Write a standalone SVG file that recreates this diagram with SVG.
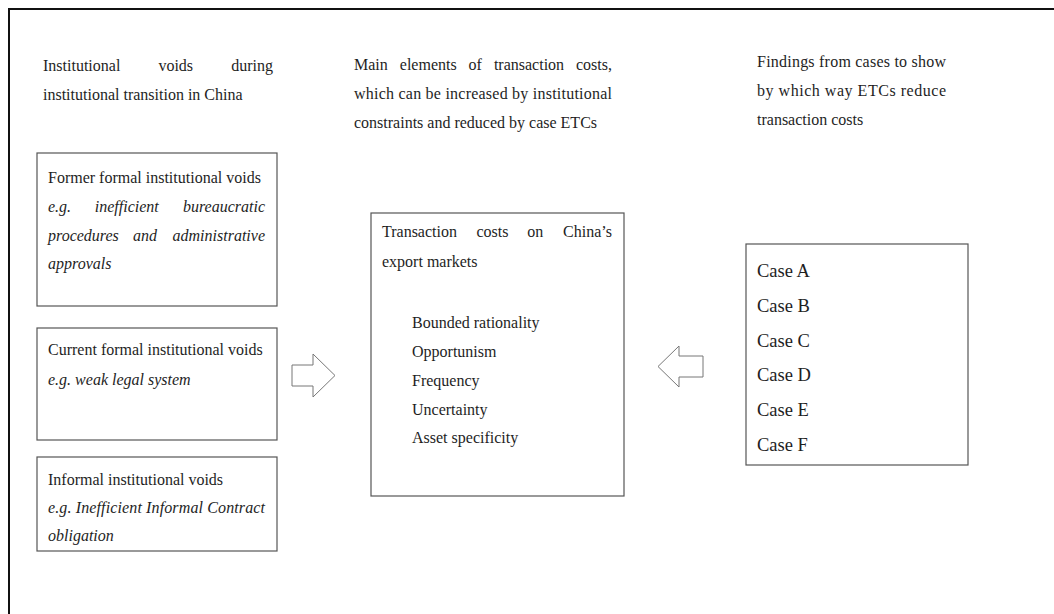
<svg xmlns="http://www.w3.org/2000/svg" width="1054" height="614" viewBox="0 0 1054 614">
<style>
text{font-family:"Liberation Serif","Times New Roman",serif;font-size:16px;fill:#1e1e1e}
.it{font-style:italic}
.cs{font-size:18.5px}
.box{fill:#fff;stroke:#555;stroke-width:1.2}
.arr{fill:#fff;stroke:#777;stroke-width:1}
</style>
<rect width="1054" height="614" fill="#fff"/>
<path d="M9,614 V9 H1054" fill="none" stroke="#111" stroke-width="2"/>

<g id="heading-left">
<text x="43" y="71">Institutional</text>
<text x="158.4" y="71">voids</text>
<text x="273" y="71" text-anchor="end">during</text>
<text x="43" y="100">institutional transition in China</text>
</g>
<g id="heading-middle">
<text x="354" y="70">Main</text>
<text x="399.8" y="70">elements</text>
<text x="468.6" y="70">of</text>
<text x="493.9" y="70">transaction</text>
<text x="612" y="70" text-anchor="end">costs,</text>
<text x="354" y="99" textLength="258" lengthAdjust="spacing">which can be increased by institutional</text>
<text x="354" y="128">constraints and reduced by case ETCs</text>
</g>
<g id="heading-right">
<text x="757" y="67" textLength="189" lengthAdjust="spacing">Findings from cases to show</text>
<text x="757" y="96" textLength="189" lengthAdjust="spacing">by which way ETCs reduce</text>
<text x="757" y="125">transaction costs</text>
</g>

<g id="box-former">
<rect class="box" x="37" y="153" width="240" height="153"/>
<text x="48" y="183">Former formal institutional voids</text>
<text class="it" x="48" y="212">e.g.</text>
<text class="it" x="94.8" y="212">inefficient</text>
<text class="it" x="265" y="212" text-anchor="end">bureaucratic</text>
<text class="it" x="48" y="241">procedures</text>
<text class="it" x="133" y="241">and</text>
<text class="it" x="265" y="241" text-anchor="end">administrative</text>
<text class="it" x="48" y="269">approvals</text>
</g>
<g id="box-current">
<rect class="box" x="37" y="328" width="240" height="112"/>
<text x="48" y="355">Current formal institutional voids</text>
<text class="it" x="48" y="385">e.g. weak legal system</text>
</g>
<g id="box-informal">
<rect class="box" x="37" y="457" width="240" height="94"/>
<text x="48" y="485">Informal institutional voids</text>
<text class="it" x="48" y="513" textLength="217" lengthAdjust="spacing">e.g. Inefficient Informal Contract</text>
<text class="it" x="48" y="541">obligation</text>
</g>

<g id="box-transaction">
<rect class="box" x="371" y="213" width="253" height="283"/>
<text x="382" y="237">Transaction</text>
<text x="476.4" y="237">costs</text>
<text x="527.3" y="237">on</text>
<text x="612" y="237" text-anchor="end">China’s</text>
<text x="382" y="267">export markets</text>
<text x="412" y="328">Bounded rationality</text>
<text x="412" y="357">Opportunism</text>
<text x="412" y="386">Frequency</text>
<text x="412" y="414.5">Uncertainty</text>
<text x="412" y="443">Asset specificity</text>
</g>

<g id="box-cases">
<rect class="box" x="746" y="244" width="222" height="221"/>
<text class="cs" x="757" y="277">Case A</text>
<text class="cs" x="757" y="312">Case B</text>
<text class="cs" x="757" y="346.5">Case C</text>
<text class="cs" x="757" y="381">Case D</text>
<text class="cs" x="757" y="416">Case E</text>
<text class="cs" x="757" y="451">Case F</text>
</g>

<g id="connectors">
<path class="arr" d="M292,365 H313 V354 L335,375.5 L313,397 V386 H292 Z"/>
<path class="arr" d="M703,356 H679 V346 L658,366.5 L679,387 V377 H703 Z"/>
</g>
</svg>
